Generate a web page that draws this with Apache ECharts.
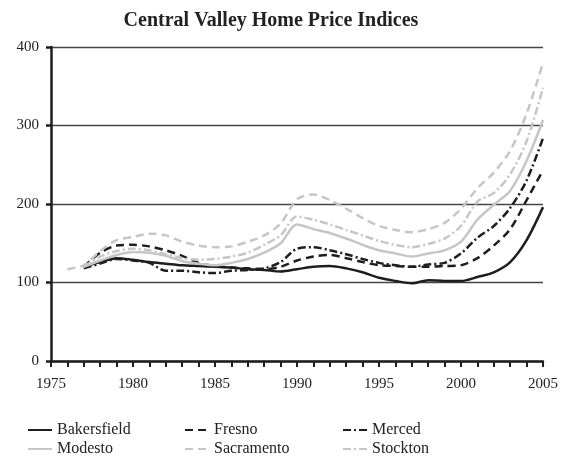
<!DOCTYPE html>
<html>
<head>
<meta charset="utf-8">
<script src="https://cdn.jsdelivr.net/npm/echarts@6/dist/echarts.min.js"></script>
<style>
  html, body { margin: 0; padding: 0; background: #fff; }
  #chart { width: 561px; height: 457px; }
</style>
</head>
<body>
<div id="chart"></div>
<script>
// years on the x axis
var years = [];
for (var y = 1975; y <= 2005; y++) years.push(String(y));

var bakersfield = [null, null, 120, 126, 131, 129, 126, 124, 122, 121, 120, 119, 117, 116, 114, 117, 120, 121, 118, 113, 106, 102, 99, 103, 102, 102, 107, 113, 126, 154, 196];
var fresno = [null, null, 120, 138, 147, 148, 146, 141, 134, 125, 121, 119, 118, 117, 120, 128, 133, 135, 131, 126, 122, 121, 120, 120, 121, 122, 131, 147, 168, 205, 243];
var merced = [null, null, 118, 124, 130, 128, 125, 115, 115, 113, 112, 115, 116, 118, 126, 143, 145, 141, 136, 130, 125, 122, 120, 123, 125, 137, 157, 172, 195, 230, 284];
var modesto = [null, null, 120, 128, 135, 139, 138, 134, 127, 124, 122, 125, 130, 138, 150, 174, 168, 163, 156, 148, 141, 137, 133, 137, 141, 152, 180, 199, 217, 255, 307];
var sacramento = [null, 117, 122, 140, 154, 158, 162, 160, 152, 147, 145, 146, 152, 160, 175, 206, 212, 205, 194, 182, 172, 167, 164, 168, 176, 194, 220, 240, 268, 315, 380];
var stockton = [null, null, 120, 133, 140, 143, 141, 136, 131, 129, 130, 133, 138, 148, 160, 184, 180, 174, 167, 160, 153, 148, 145, 149, 156, 172, 203, 214, 238, 280, 348];

var yTicks = [0, 100, 200, 300, 400];

var black = '#1e1e1e';
var gray = '#c6c6c6';
var dash = [8, 5];
var dashDot = [8, 3, 2, 3];
var font = '"Liberation Serif", "DejaVu Serif", serif';

function mk(name, data, color, type) {
    return {
        name: name,
        type: 'line',
        data: data,
        smooth: 0.3,
        symbol: 'none',
        connectNulls: false,
        lineStyle: { color: color, width: 2.5, type: type },
        itemStyle: { color: color }
    };
}

// one legend per item so the three columns line up
function leg(name, left, top) {
    return {
        data: [name],
        left: left,
        top: top,
        itemWidth: 24,
        itemHeight: 14,
        itemStyle: { opacity: 0 },
        textStyle: { fontFamily: font, fontSize: 16, color: '#222' }
    };
}

var myChart = echarts.init(document.getElementById('chart'));

var option = {
    animation: false,
    title: {
        text: 'Central Valley Home Price Indices',
        left: 266,
        top: 6,
        textAlign: 'center',
        textStyle: { fontFamily: font, fontSize: 20, fontWeight: 'bold', color: '#222' }
    },
    legend: [
        leg('Bakersfield', 22, 417),
        leg('Modesto', 22, 436),
        leg('Fresno', 179, 417),
        leg('Sacramento', 179, 436),
        leg('Merced', 337, 417),
        leg('Stockton', 337, 436)
    ],
    grid: { left: 51, right: 16, top: 47, bottom: 96 },
    xAxis: {
        type: 'category',
        data: years,
        boundaryGap: false,
        axisLine: { lineStyle: { color: black, width: 2.5 } },
        axisTick: { show: true, interval: 0, length: 6, lineStyle: { color: black, width: 2 } },
        axisLabel: {
            interval: 4,
            margin: 16,
            fontFamily: font,
            fontSize: 15,
            color: '#222'
        },
        splitLine: { show: false }
    },
    yAxis: {
        type: 'value',
        min: yTicks[0],
        max: yTicks[yTicks.length - 1],
        interval: 100,
        axisLine: { show: true, lineStyle: { color: black, width: 2.5 } },
        axisTick: { show: true, length: 5, lineStyle: { color: black, width: 2.5 } },
        axisLabel: { margin: 12, fontFamily: font, fontSize: 15, color: '#222' },
        splitLine: { show: true, lineStyle: { color: '#444', width: 1.3 } }
    },
    series: [
        mk('Bakersfield', bakersfield, black, 'solid'),
        mk('Fresno', fresno, black, dash),
        mk('Merced', merced, black, dashDot),
        mk('Modesto', modesto, gray, 'solid'),
        mk('Sacramento', sacramento, gray, dash),
        mk('Stockton', stockton, gray, dashDot)
    ]
};

myChart.setOption(option);
</script>
</body>
</html>
